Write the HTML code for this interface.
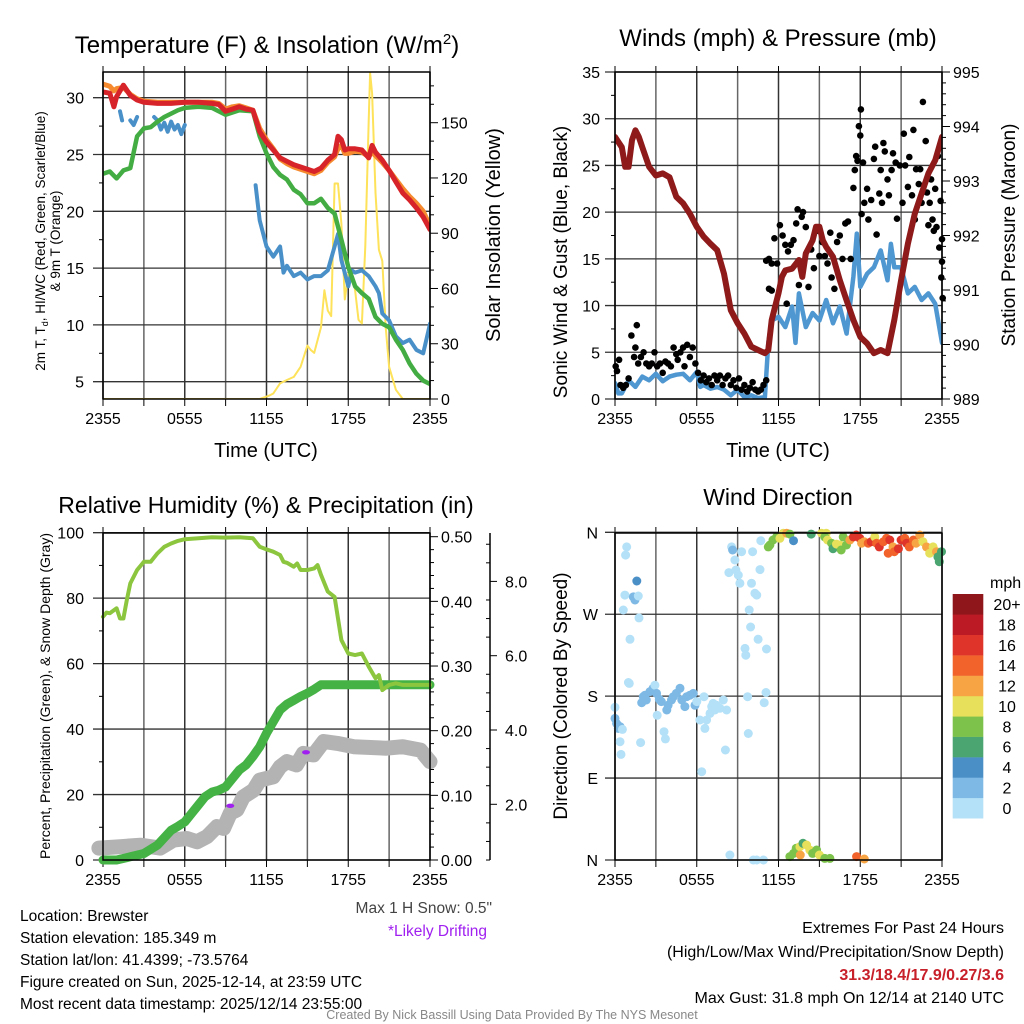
<!DOCTYPE html>
<html><head><meta charset="utf-8"><title>Brewster Meteogram</title>
<style>
html,body{margin:0;padding:0;background:#fff;}
svg{display:block;font-family:"Liberation Sans",Arial,sans-serif;}
</style></head>
<body>
<svg id="fig" width="1024" height="1024" viewBox="0 0 1024 1024" xmlns="http://www.w3.org/2000/svg">
<rect width="1024" height="1024" fill="#fff"/>
<defs>
<clipPath id="c1"><rect x="103" y="72" width="327" height="327"/></clipPath>
<clipPath id="c2"><rect x="615" y="72" width="327" height="327"/></clipPath>
</defs>
<text x="267" y="53" font-size="24" text-anchor="middle">Temperature (F) &amp; Insolation (W/m<tspan dy="-9" font-size="15">2</tspan><tspan dy="9">)</tspan></text>
<text x="778" y="46" font-size="24" text-anchor="middle">Winds (mph) &amp; Pressure (mb)</text>
<text x="266" y="513" font-size="23" text-anchor="middle">Relative Humidity (%) &amp; Precipitation (in)</text>
<text x="778" y="505" font-size="23" text-anchor="middle">Wind Direction</text>

<text transform="translate(45,241) rotate(-90)" font-size="13.5" text-anchor="middle">2m T, T<tspan font-size="9" dy="3">d</tspan><tspan dy="-3">, HI/WC (Red, Green, Scarlet/Blue)</tspan></text>
<text transform="translate(60,241) rotate(-90)" font-size="13.5" text-anchor="middle">&amp; 9m T (Orange)</text>
<text transform="translate(500,235) rotate(-90)" font-size="20" text-anchor="middle">Solar Insolation (Yellow)</text>
<text x="266" y="457" font-size="20" text-anchor="middle">Time (UTC)</text>
<text x="778" y="457" font-size="20" text-anchor="middle">Time (UTC)</text>
<text transform="translate(567,262) rotate(-90)" font-size="19" text-anchor="middle">Sonic Wind &amp; Gust (Blue, Black)</text>
<text transform="translate(1015,235) rotate(-90)" font-size="19" text-anchor="middle">Station Pressure (Maroon)</text>
<text transform="translate(50,696) rotate(-90)" font-size="14" text-anchor="middle">Percent, Precipitation (Green), &amp; Snow Depth (Gray)</text>
<text transform="translate(567,696) rotate(-90)" font-size="19" text-anchor="middle">Direction (Colored By Speed)</text>

<g id="layer"></g>

<g font-size="15.5">
<text x="20" y="921">Location: Brewster</text>
<text x="20" y="943">Station elevation: 185.349 m</text>
<text x="20" y="965">Station lat/lon: 41.4399; -73.5764</text>
<text x="20" y="987">Figure created on Sun, 2025-12-14, at 23:59 UTC</text>
<text x="20" y="1009">Most recent data timestamp: 2025/12/14 23:55:00</text>
</g>
<text x="492" y="913" font-size="15.5" fill="#444" text-anchor="end">Max 1 H Snow: 0.5"</text>
<text x="487" y="936" font-size="15.5" fill="#a020f0" text-anchor="end">*Likely Drifting</text>
<g font-size="16" text-anchor="end">
<text x="1004" y="933">Extremes For Past 24 Hours</text>
<text x="1004" y="957">(High/Low/Max Wind/Precipitation/Snow Depth)</text>
<text x="1004" y="980" font-weight="bold" fill="#c8202a">31.3/18.4/17.9/0.27/3.6</text>
<text x="1004" y="1003">Max Gust: 31.8 mph On 12/14 at 2140 UTC</text>
</g>
<text x="512" y="1019" font-size="12.5" fill="#888" text-anchor="middle">Created By Nick Bassill Using Data Provided By The NYS Mesonet</text>
</svg>
<script>
// ---------- data ----------
const timeTicks = ["2355","0555","1155","1755","2355"];
const redH = [0,0.5,0.8,1,1.5,2,2.5,3,4,5,6,7,8,8.5,9,9.5,10,10.5,11,11.5,12,12.5,13,13.5,14,14.5,15,15.5,16,16.5,17,17.25,17.5,17.75,18,18.5,19,19.5,19.75,20,20.5,21,21.5,22,22.5,23,23.5,24];
const redV = [30.5,30.4,29.2,30.1,31.1,30.2,29.8,29.6,29.5,29.5,29.6,29.6,29.5,29.4,28.8,29.0,29.2,29.0,28.9,27.0,26.1,25.4,24.7,24.4,24.1,23.9,23.7,23.5,23.8,24.5,25.0,26.6,26.3,25.4,25.5,25.5,25.4,24.7,25.8,25.2,24.5,23.6,22.6,21.6,21.0,20.3,19.5,18.4];
const orangeV = [31.2,31.0,30.6,30.8,30.9,30.3,29.9,29.7,29.6,29.6,29.6,29.6,29.6,29.5,29.0,29.2,29.3,29.1,28.9,27.3,26.3,25.5,24.6,24.2,23.9,23.7,23.5,23.3,23.6,24.3,24.8,25.5,25.8,25.1,25.1,25.3,25.2,24.8,25.2,24.9,24.3,23.6,22.8,22.0,21.3,20.7,20.0,18.7];
const greenH = [0,0.5,1,1.5,2,2.5,3,3.5,4,4.5,5,5.5,6,7,8,9,10,11,11.5,12,12.5,13,13.5,14,14.5,15,15.5,16,16.5,17,17.5,18,18.5,19,19.5,20,20.5,21,21.5,22,22.5,23,23.5,24];
const greenV = [23.3,23.5,22.9,23.6,23.8,26.6,27.3,27.4,27.9,28.3,28.6,28.9,29.1,29.2,29.1,28.5,28.9,28.8,26.6,25.1,23.9,23.2,22.8,21.9,21.5,20.7,20.7,21.1,20.3,19.8,17.5,15.1,13.4,12.8,12.3,10.7,10.1,9.8,8.7,7.8,6.6,5.7,5.1,4.8];
const chillH = [1.25,1.4,1.5,2,2.25,2.5,2.6,3.75,4,4.25,4.5,4.75,5,5.25,5.5,5.75,6,6.1,11.2,11.5,12,12.5,13,13.25,13.5,14,14.5,15,15.5,16,16.5,17,17.25,17.5,18,18.25,18.5,19,19.5,20,20.25,20.5,21,21.5,22,22.5,23,23.5,24];
const chillV = [28.8,28.0,null,28.0,27.6,28.3,null,28.3,28.0,27.2,27.8,27.0,27.9,27.2,27.6,26.8,27.6,null,22.3,19.2,16.9,16.0,16.9,14.6,15.2,14.3,14.6,14.0,14.3,14.3,14.8,16.9,18.0,15.7,13.4,14.8,14.6,14.8,14.3,13.4,12.8,11.0,10.4,9.0,8.4,8.7,7.8,7.5,10.1];
const solarH = [0,11.5,12,12.25,12.5,13,13.5,14,14.5,15,15.25,15.5,16,16.25,16.5,16.75,17,17.25,17.5,17.75,18,18.25,18.5,18.75,19,19.25,19.5,19.6,19.75,20,20.25,20.5,20.75,21,21.5,22,24];
const solarV = [0,0,1.3,2,3,8.5,10.3,12,17.5,29,26.6,25,39,59,48,45,117,117,95,54,68,68,59,43,41,83,151,177,166,112,81,75,39,17.5,5,0,0];
const tempTicks = [5,10,15,20,25,30];
const solarTicks = [0,30,60,90,120,150];

const presH = [0,0.5,0.75,1,1.25,1.5,1.75,2,2.5,3,3.5,4,4.5,5,5.5,6,6.5,7,7.5,8,8.5,9,9.5,10,10.5,11,11.25,11.5,12,12.25,12.5,13,13.5,13.75,14,14.5,14.75,15,15.25,15.5,16,16.5,17,17.5,18,18.5,19,19.5,20,20.5,21,21.5,22,22.5,23,23.5,24];
const presV = [993.81,993.62,993.26,993.26,993.75,993.93,993.81,993.62,993.26,993.1,993.14,993.07,992.71,992.59,992.4,992.16,991.98,991.85,991.73,991.3,990.63,990.39,990.2,989.96,989.9,989.84,989.9,990.45,990.94,991.24,991.36,991.39,991.55,991.24,991.67,991.91,992.16,992.16,991.91,991.79,991.61,991.18,990.81,990.45,990.14,990.02,989.84,989.9,989.84,990.45,991.18,991.85,992.4,992.77,993.14,993.38,993.81];
const windH = [0,0.25,0.5,1,1.5,2,2.5,3,3.5,4,4.5,5,5.5,6,6.25,6.5,7,7.5,8,8.5,9,9.5,10,10.5,11,11.25,11.5,12,12.5,13,13.25,13.5,14,14.5,15,15.5,16,16.5,17,17.5,17.75,18,18.5,19,19.5,20,20.25,20.5,21,21.5,22,22.5,23,23.5,24];
const windV = [1.7,0.6,0.6,2,1.3,2.4,2,2.7,1.9,2.4,2.6,2.7,2,2.9,1.3,1.5,1.1,1.3,1,0.4,1,0.2,0.4,0.1,0.2,6,8.4,8.8,7.7,9.9,6,11.3,7.7,9.2,8.4,10.6,8.1,9.9,7,13.1,17.7,12,13.4,14.1,15.9,12.7,16.6,14.1,14.1,11.3,12,10.6,11.3,10.2,6];
const gustH = [0.05,0.15,0.3,0.4,0.6,0.8,1.0,1.2,1.4,1.5,1.6,1.7,1.9,2.1,2.3,2.5,2.7,2.9,3.1,3.3,3.5,3.7,3.9,4.1,4.3,4.5,4.6,4.8,5.0,5.1,5.3,5.5,5.7,5.9,6.1,6.3,6.5,6.7,6.9,7.1,7.3,7.5,7.7,7.9,8.1,8.3,8.5,8.7,8.9,9.1,9.3,9.5,9.7,9.9,10.1,10.3,10.5,10.7,10.9,11.1,
 11.3,11.5,11.1,11.3,11.5,11.7,11.9,12.1,12.3,12.5,12.6,12.7,12.9,13.1,13.3,13.4,13.5,13.7,13.8,14.0,14.2,14.4,14.6,14.8,15.0,15.2,15.4,15.6,15.8,15.9,16.1,16.3,16.5,16.7,16.9,17.1,17.3,17.5,17.6,17.7,17.8,17.9,18.0,18.05,18.1,18.2,18.3,18.5,18.6,18.8,19.0,19.1,19.2,19.4,19.5,19.6,19.7,19.8,20.0,20.1,20.3,20.4,20.6,20.7,20.9,21.1,21.2,21.3,21.5,21.6,21.8,21.9,22.0,22.1,22.3,22.4,22.5,22.6,22.8,22.9,23.0,23.1,23.2,23.3,23.4,23.5,23.6,23.7,23.8,23.9,24.0,24.0,23.95,24.05];
const gustV = [3.5,3.0,4.2,1.5,1.2,1.5,2.2,6.8,4.5,5.5,7.9,3.8,4.5,5.0,3.8,3.5,3.8,5.0,3.5,3.8,2.8,4.0,3.8,3.5,5.5,4.8,4.2,5.0,5.5,3.5,5.8,4.5,5.5,3.8,2.8,2.0,2.5,1.8,2.2,1.5,2.5,2.0,2.5,1.5,2.2,2.5,1.5,2.0,1.2,2.2,1.0,1.5,0.8,1.2,1.8,1.0,0.8,1.0,1.5,2.0,
 11.8,11.6,14.8,15.0,14.5,17.2,14.5,18.6,17.5,16.5,10.2,15.8,16.5,17.0,18.8,20.3,12.2,19.5,20.0,18.4,12.0,16.0,14.0,18.0,15.3,16.8,15.3,14.5,17.8,13.0,11.8,16.8,17.5,15.0,18.8,19.0,15.0,22.6,24.5,26.0,25.5,29.2,28.2,31.0,19.8,25.3,21.0,22.5,19.2,21.3,25.7,27.0,17.6,22.0,24.5,21.0,27.4,26.5,23.5,21.8,24.5,26.3,25.3,19.3,25.0,21.0,28.4,25.0,22.7,25.9,21.8,28.8,19.2,24.6,23.0,24.6,21.0,31.8,27.6,22.1,18.6,21.0,23.5,19.2,18.0,22.5,18.4,26.0,16.2,21.2,17.1,14.7,13.0,10.8];
const windTicks = [0,5,10,15,20,25,30,35];
const presTicks = [989,990,991,992,993,994,995];

const rhH = [0,0.25,0.5,1,1.25,1.5,1.75,2,2.5,3,3.5,4,4.5,5,5.5,6,7,8,9,10,11,11.5,12,12.5,13,13.25,13.5,14,14.25,14.5,15,15.5,15.75,16,16.5,17,17.5,18,18.5,19,19.5,20,20.25,20.5,21,21.5,22,23,24];
const rhV = [74.3,75.6,75.4,76.9,73.8,73.8,79.4,84.5,88.6,91.1,91.1,93.7,95.7,96.7,97.5,98,98.3,98.6,98.5,98.6,98.3,95.7,94.9,94.2,93.2,91.1,90.8,89.6,90.6,88.6,88.6,89.1,90.1,87.1,82,80.4,67.2,63.1,62.6,63.1,59.1,55.5,56.5,51.9,53.5,54,53.5,53.5,53.5];
const precipH = [0,1,2,3,4,5,5.5,6,6.5,7,7.5,8,8.5,9,9.5,10,10.5,11,11.5,12,12.5,13,13.5,14,14.5,15,15.5,16,24];
const precipV = [0,0,0.005,0.01,0.023,0.046,0.052,0.059,0.072,0.085,0.098,0.105,0.108,0.113,0.126,0.139,0.147,0.16,0.175,0.196,0.214,0.232,0.241,0.247,0.253,0.258,0.264,0.271,0.271];
const snowH = [-0.3,1.27,2.74,4.2,5.18,6.16,6.9,7.63,8.36,8.85,9.34,9.83,10.3,11.05,11.5,12.5,13,13.5,14.2,14.7,15.45,16.2,17.2,18.4,20.8,22,23.3,24];
const snowV = [0.82,0.86,0.90,0.82,1.04,1.08,0.99,1.13,1.40,1.35,1.76,1.85,2.2,2.38,2.65,2.74,3.01,3.15,3.06,3.37,3.33,3.69,3.64,3.55,3.51,3.55,3.46,3.15];
const driftH = [9.34,14.9];
const driftV = [1.96,3.40];
const rhTicks = [0,20,40,60,80,100];
const precipTicks = ["0.00","0.10","0.20","0.30","0.40","0.50"];
const snowTicks = ["2.0","4.0","6.0","8.0"];

const dirH = [0,0,0.12,0.24,0.37,0.54,0.37,0.44,0.61,0.78,0.86,0.73,1.1,0.98,1.05,1.34,1.47,1.6,1.71,1.76,1.88,1.96,2.08,2.2,2.3,2.57,2.8,2.93,3.05,3.1,3.25,3.4,3.6,3.7,3.8,3.9,4.15,4.28,4.5,4.77,4.9,5.13,5.26,5.5,5.75,5.87,6.0,6.23,6.36,6.53,6.6,6.72,6.97,7.1,7.2,7.33,7.45,7.7,7.95,8.1,8.19,8.43,8.36,8.56,8.63,8.8,8.87,9.05,9.17,9.29,9.54,9.6,9.73,9.78,9.85,9.95,10.02,10.1,10.27,10.4,10.5,10.64,10.7,10.15,10.4,10.9,10.95,11.08,11.12,
 11.25,11.37,11.6,11.86,12.1,12.35,12.6,12.84,13.1,14.4,15.16,15.5,15.4,15.6,15.9,16,16.26,16.5,16.6,16.75,16.99,17.24,17.5,17.7,17.97,18.1,18.3,18.58,18.8,19.07,19.2,19.4,19.7,19.93,20.05,20.17,20.4,20.5,20.8,21,21.27,21.4,21.6,21.9,22.1,22.37,22.6,22.86,23.1,23.35,23.6,23.7,23.8,23.96,
 12.84,13.1,13.3,13.57,13.8,14.06,14.3,14.5,14.8,15,15.4,15.77,13.6,17.73,18.3];
const dirDeg = [167.7,155.6,150,144.6,146.5,143.5,130,116,274.6,335,344,291,242.4,195,194,289,285.6,306.5,290,266,129,172.8,179.4,181,175.8,185,188.6,192,183,159,176.5,174,141,133,164.8,170,175.8,179.4,183,188.6,175.8,168.5,179.4,181,183,170,174,153.8,97,179.4,144.6,153.8,161,168.5,172,164.8,170,166.6,175.8,120.8,164.8,5.5,315.7,344,340.6,329.6,318.6,313,304,338.7,232.5,225,179.4,139,274.6,256,304,338.7,293,291,242.4,319,350.8,0,0,0,172.8,184,231.8,
 344,346,351.5,355,353.4,359,359,358,350.8,358,359,359,355,351.5,348,342,347,346,340.6,355,346,351.5,355,357,353.4,348,349.7,348,349.7,355,348,344,349.7,353.4,337,351.5,344,338.7,342,351.5,353.4,348,344,351.5,348,357,349.7,344,337,344,338.7,333,327.7,338.7,
 3.7,7.3,12.8,14.6,18.3,16.5,11,7.3,11,5.5,1.8,1.8,5.5,3.7,1.1];
const dirSpd = [1,3,3,3,3,1,1,1,1,1,1,1,1,1,1,3,3,5,1,1,1,3,3,3,3,3,3,1,3,1,3,3,1,1,3,3,3,3,3,3,3,3,3,3,3,3,1,1,1,1,1,1,1,1,1,1,1,1,1,1,1,1,1,1,3,1,1,1,1,1,1,1,1,1,1,1,1,1,1,1,1,1,1,1,1,1,1,1,1,
 9,9,9,9,11,11,13,9,5,7,11,11,9,11,9,7,11,11,9,9,9,13,17,17,17,13,13,15,17,11,15,17,15,15,15,17,13,15,17,17,15,17,15,15,13,13,11,13,11,11,13,7,7,7,
 9,9,9,11,7,11,11,9,9,11,9,9,13,15,13];
const speedBinColors = ["#b4e1f7","#7db9e4","#4b8fc7","#4aa570","#7cc24b","#e6e05a","#f7a544","#f1632a","#de3429","#bc1b25","#8f161b"];
const speedBinLabels = ["0","2","4","6","8","10","12","14","16","18","20+"];
const dirTicks = ["N","E","S","W","N"];

// ---------- scales ----------
const X0a = 103, X0b = 615, PW = 327;
const xA = h => X0a + h * PW / 24;
const xB = h => X0b + h * PW / 24;
const yTemp = v => 97.7 + (30 - v) * 11.36;
const ySolar = v => 399 - v * 1.842;
const yWind = v => 399 - v * 327 / 35;
const yPres = p => 399 - (p - 989) * 54.5;
const yRH = v => 860 - v * 3.273;
const yPrecip = v => 860 - v * 646.6;
const ySnow = v => 878.6 - v * 37.15;
const yDir = d => 860 - d * 327.7 / 360;

const NS = "http://www.w3.org/2000/svg";
const layer = document.getElementById('layer');
function mk(tag, attrs, parent) {
  const e = document.createElementNS(NS, tag);
  for (const k in attrs) e.setAttribute(k, attrs[k]);
  (parent || layer).appendChild(e);
  return e;
}
function pathD(hs, vs, fx, fy) {
  let d = "", pen = false;
  for (let i = 0; i < hs.length; i++) {
    if (vs[i] === null) { pen = false; continue; }
    d += (pen ? "L" : "M") + fx(hs[i]).toFixed(1) + "," + fy(vs[i]).toFixed(1);
    pen = true;
  }
  return d;
}
function series(hs, vs, fx, fy, color, w, name, clip) {
  const p = mk('path', {d: pathD(hs, vs, fx, fy), fill: 'none', stroke: color, 'stroke-width': w, 'stroke-linejoin': 'round', 'stroke-linecap': 'round'});
  if (clip) p.setAttribute('clip-path', 'url(#' + clip + ')');
  
  
  return p;
}
function txt(x, y, s, anchor, size, name) {
  const t = mk('text', {x: x, y: y, 'font-size': size, 'text-anchor': anchor});
  t.textContent = s;
  
  
  return t;
}
function line(x1, y1, x2, y2, color, w, name) {
  const l = mk('line', {x1: x1, y1: y1, x2: x2, y2: y2, stroke: color, 'stroke-width': w});
  
  
  return l;
}
function frame(x0, y0) {
  for (let k = 0; k <= 8; k++) {
    const x = x0 + k * PW / 8;
    line(x, y0, x, y0 + PW, k % 2 ? '#666' : '#333', 1.5, 'vertical-grid-line');
    line(x, y0 + PW, x, y0 + PW + 7, '#000', 1, 'x-tick');
    line(x, y0, x, y0 - 6, '#000', 1, 'x-tick-top');
  }
  timeTicks.forEach((s, i) => txt(x0 + i * PW / 4, y0 + PW + 25, s, 'middle', 16, 'x-tick-label'));
}
function box(x0, y0) {
  const r = mk('rect', {x: x0, y: y0, width: PW, height: PW, fill: 'none', stroke: '#000', 'stroke-width': 1.5});
  
  
}
function hgrid(x0, y) { line(x0 - 10, y, x0 + PW, y, '#333', 1.3, 'horizontal-grid-line'); }

// ---------- Panel 1 ----------
frame(X0a, 72);
tempTicks.forEach(v => { hgrid(X0a, yTemp(v)); txt(84, yTemp(v) + 6, String(v), 'end', 16, 'temp-tick-label'); });
[7.5,12.5,17.5,22.5,27.5].forEach(v => line(X0a - 4, yTemp(v), X0a, yTemp(v), '#000', 1, 'temp-minor-tick'));
for (let v = 0; v <= 170; v += 10) line(430, ySolar(v), 430 + (v % 30 ? 4 : 8), ySolar(v), '#000', 1, 'solar-tick');
solarTicks.forEach(v => txt(441, ySolar(v) + 6, String(v), 'start', 16, 'solar-tick-label'));
series(solarH, solarV, xA, ySolar, '#fde25a', 2, 'solar-insolation-line', 'c1');
series(chillH, chillV, xA, yTemp, '#4a90c8', 4, 'wind-chill-line', 'c1');
series(greenH, greenV, xA, yTemp, '#43ad43', 4.5, 'dewpoint-line', 'c1');
series(redH, orangeV, xA, yTemp, '#f58a2e', 5, 'temp-9m-line', 'c1');
series(redH, redV, xA, yTemp, '#d7232a', 5, 'temp-2m-line', 'c1');
box(X0a, 72);

// ---------- Panel 2 ----------
frame(X0b, 72);
windTicks.forEach(v => { hgrid(X0b, yWind(v)); txt(600, yWind(v) + 6, String(v), 'end', 16, 'wind-tick-label'); });
for (let v = 2.5; v < 35; v += 5) line(X0b - 4, yWind(v), X0b, yWind(v), '#000', 1, 'wind-minor-tick');
for (let k = 0; k <= 30; k++) { const p = 989 + k * 0.2; line(942, yPres(p), 942 + (k % 5 ? 4 : 8), yPres(p), '#000', 1, 'pressure-tick'); }
presTicks.forEach(v => txt(953, yPres(v) + 6, String(v), 'start', 16, 'pressure-tick-label'));
series(windH, windV, xB, yWind, '#4f97d1', 4.5, 'sonic-wind-line', 'c2');
gustH.forEach((h, i) => {
  const c = mk('circle', {cx: xB(h).toFixed(1), cy: yWind(gustV[i]).toFixed(1), r: 3.3, fill: '#000'});
  
  
});
series(presH, presV, xB, yPres, '#8e1a1a', 6, 'station-pressure-line', 'c2');
box(X0b, 72);

// ---------- Panel 3 ----------
frame(X0a, 533);
rhTicks.forEach(v => { hgrid(X0a, yRH(v)); txt(84, yRH(v) + 6, String(v), 'end', 16, 'rh-tick-label'); });
[10,30,50,70,90].forEach(v => line(X0a - 4, yRH(v), X0a, yRH(v), '#000', 1, 'rh-minor-tick'));
for (let k = 0; k <= 25; k++) { const v = k * 0.02; line(430, yPrecip(v), 430 + (k % 5 ? 4 : 8), yPrecip(v), '#000', 1, 'precip-tick'); }
precipTicks.forEach(s => txt(441, yPrecip(parseFloat(s)) + 6, s, 'start', 16, 'precip-tick-label'));
line(490, 533, 490, 860, '#000', 1.5, 'snow-axis-line');
for (let k = 1; k <= 18; k++) { const v = k * 0.5; if (ySnow(v) < 533) break; if (k % 4) line(486, ySnow(v), 490, ySnow(v), '#000', 1, 'snow-minor-tick'); }
snowTicks.forEach(s => { const y = ySnow(parseFloat(s)); line(490, y, 497, y, '#000', 1, 'snow-tick'); txt(505, y + 6, s, 'start', 16, 'snow-tick-label'); });
series(snowH, snowV, xA, ySnow, '#b3b3b3', 15, 'snow-depth-line', null);
series(precipH, precipV, xA, yPrecip, '#45b246', 9, 'precipitation-line', null);
series(rhH, rhV, xA, yRH, '#8cc63f', 4, 'relative-humidity-line', null);
driftH.forEach((h, i) => {
  const e = mk('ellipse', {cx: xA(h).toFixed(1), cy: ySnow(driftV[i]).toFixed(1), rx: 4, ry: 2.2, fill: '#a020f0'});
  
  
});
box(X0a, 533);

// ---------- Panel 4 ----------
frame(X0b, 533);
dirTicks.forEach((s, i) => { const y = yDir(i * 90); hgrid(X0b, y); txt(598, y + 6, s, 'end', 16, 'direction-tick-label'); });
dirH.forEach((h, i) => {
  const bin = Math.min(10, Math.floor(dirSpd[i] / 2));
  const c = mk('circle', {cx: xB(h).toFixed(1), cy: yDir(dirDeg[i]).toFixed(1), r: 4.5, fill: speedBinColors[bin]});
  
  
});
box(X0b, 533);
txt(990, 588, 'mph', 'start', 16, 'colorbar-title');
speedBinLabels.forEach((s, i) => {
  const y = 818.3 - (i + 1) * 20.39;
  const r = mk('rect', {x: 952.7, y: y.toFixed(1), width: 30.6, height: 20.6, fill: speedBinColors[i]});
  
  
  txt(1007, y + 16, s, 'middle', 16, 'colorbar-label');
});
</script>
</body></html>
